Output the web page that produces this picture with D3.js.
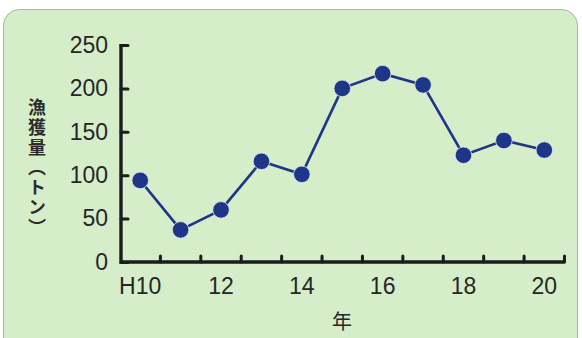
<!DOCTYPE html>
<html>
<head>
<meta charset="utf-8">
<script src="https://cdn.jsdelivr.net/npm/d3@7"></script>
<style>
  html, body { margin: 0; padding: 0; background: #ffffff; }
  svg { display: block; }
</style>
</head>
<body>
<svg id="chart" width="582" height="338"></svg>
<script>
// Annual catch (tonnes), Heisei 10 to 20
const years = ["H10", "11", "12", "13", "14", "15", "16", "17", "18", "19", "20"];
const catchTons = [94, 37, 60, 116, 101, 200, 217, 204, 123, 140, 129];
const xTickLabels = ["H10", "12", "14", "16", "18", "20"];
const yTicks = [0, 50, 100, 150, 200, 250];

const svg = d3.select("#chart");
const axisColor = "#1c1c1c";
const lineColor = "#1e3688";
const textColor = "#262626";
const numFont = "'Liberation Sans', Arial, sans-serif";
const cjkFont = "'Noto Sans CJK JP', 'Noto Sans', sans-serif";

// Card background
svg.append("rect")
  .attr("x", 3.5).attr("y", 9.5)
  .attr("width", 574).attr("height", 360)
  .attr("rx", 16).attr("ry", 16)
  .attr("fill", "#d6edca")
  .attr("stroke", "#aab4a6")
  .attr("stroke-width", 1);

const x = d3.scaleBand().domain(years).range([120, 564.5]).padding(0);
const y = d3.scaleLinear().domain([0, 250]).range([262, 45]);

// Y axis: ticks point inward
const yAxis = svg.append("g")
  .attr("transform", `translate(${x.range()[0] + 1},0)`)
  .call(d3.axisLeft(y).tickValues(yTicks).tickSizeInner(-7).tickSizeOuter(0).tickPadding(13));
yAxis.select(".domain").remove();
yAxis.selectAll(".tick line")
  .attr("stroke", axisColor).attr("stroke-width", 3).attr("stroke-linecap", "round");
yAxis.selectAll(".tick text")
  .attr("fill", textColor)
  .style("font-family", numFont)
  .style("font-size", "23px");

// Axis lines (L-shape)
svg.append("path")
  .attr("d", `M${x.range()[0] + 1},${y(250) - 1} V${y(0)} H${x.range()[1]}`)
  .attr("fill", "none")
  .attr("stroke", axisColor)
  .attr("stroke-width", 3.4)
  .attr("stroke-linejoin", "miter");

// X boundary ticks between bands (pointing up)
const boundaries = years.slice(1).map(d => x(d)).concat([x.range()[1]]);
svg.append("g").selectAll("line")
  .data(boundaries)
  .join("line")
  .attr("x1", d => d).attr("x2", d => d)
  .attr("y1", y(0)).attr("y2", y(0) - 6)
  .attr("stroke", axisColor).attr("stroke-width", 3).attr("stroke-linecap", "round");

// X labels at band centres (band axis already centres its ticks)
const xAxis = svg.append("g")
  .attr("transform", `translate(0,${y(0)})`)
  .call(d3.axisBottom(x).tickValues(xTickLabels).tickSize(0).tickPadding(16));
xAxis.select(".domain").remove();
xAxis.selectAll(".tick text")
  .attr("fill", textColor)
  .style("font-family", numFont)
  .style("font-size", "23px");

// Axis titles
svg.append("text")
  .attr("x", 342).attr("y", 329)
  .attr("text-anchor", "middle")
  .attr("fill", textColor)
  .style("font-family", cjkFont)
  .style("font-size", "20px")
  .text("年");

svg.append("text")
  .attr("x", 37).attr("y", 98)
  .attr("fill", "#2c2c2c")
  .style("font-family", cjkFont)
  .style("font-size", "18px")
  .style("font-weight", "bold")
  .style("writing-mode", "vertical-rl")
  .style("letter-spacing", "2px")
  .text("漁獲量（トン）");

// Series line and markers
const line = d3.line()
  .x((d, i) => x(years[i]) + x.bandwidth() / 2)
  .y(d => y(d));

svg.append("path")
  .datum(catchTons)
  .attr("d", line)
  .attr("fill", "none")
  .attr("stroke", lineColor)
  .attr("stroke-width", 2.6);

svg.append("g").selectAll("circle")
  .data(catchTons)
  .join("circle")
  .attr("cx", (d, i) => x(years[i]) + x.bandwidth() / 2)
  .attr("cy", d => y(d))
  .attr("r", 8.3)
  .attr("fill", lineColor)
  .attr("stroke", "#e4eef0")
  .attr("stroke-width", 0.8);
</script>
</body>
</html>
